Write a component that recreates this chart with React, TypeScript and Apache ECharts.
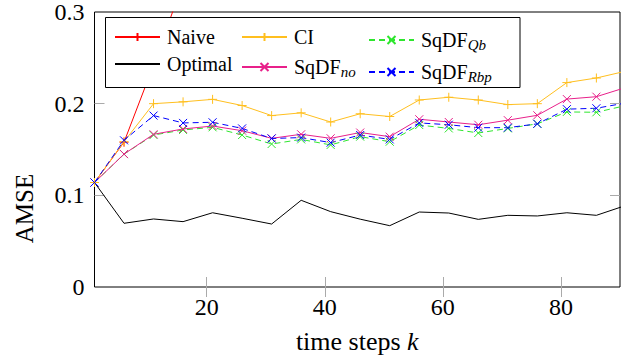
import React, { useEffect, useRef } from "react";
import * as echarts from "echarts";

const steps = [1, 6, 11, 16, 21, 26, 31, 36, 41, 46, 51, 56, 61, 66, 71, 76, 81, 86, 91];
const xTicks = [20, 40, 60, 80];
const yTicks = [0.1, 0.2];

const naive = [0.114, 0.158, 0.242, 0.332];
const ci = [0.114, 0.1585, 0.2, 0.202, 0.2047, 0.198, 0.187, 0.19, 0.18, 0.189, 0.186, 0.204, 0.207, 0.204, 0.199, 0.2, 0.223, 0.228, 0.2355];
const optimal = [0.114, 0.0695, 0.0742, 0.0713, 0.081, 0.075, 0.0687, 0.0946, 0.0822, 0.074, 0.0669, 0.0818, 0.0807, 0.0738, 0.0782, 0.0775, 0.081, 0.0782, 0.089];
const sqdfNo = [0.114, 0.145, 0.1666, 0.1724, 0.1756, 0.1705, 0.1622, 0.1666, 0.1622, 0.1685, 0.164, 0.183, 0.18, 0.177, 0.182, 0.1873, 0.205, 0.2076, 0.2177];
const sqdfQb = [0.114, 0.145, 0.1658, 0.1713, 0.1742, 0.1658, 0.156, 0.161, 0.155, 0.164, 0.1585, 0.1767, 0.173, 0.168, 0.173, 0.178, 0.191, 0.1906, 0.198];
const sqdfRbp = [0.114, 0.16, 0.187, 0.179, 0.1797, 0.173, 0.162, 0.163, 0.1575, 0.1658, 0.161, 0.179, 0.177, 0.1738, 0.1738, 0.178, 0.194, 0.195, 0.2008];

const FONT = "'Liberation Serif', 'DejaVu Serif', serif";
const PLUS = "path://M4.5,0L4.5,9M0,4.5L9,4.5";
const CROSS = "path://M0,0L8,8M0,8L8,0";

const pairs = (vals: number[]) => vals.map((v, i) => [steps[i], v]);

const legendLabels: Record<string, string> = {
  Naive: "{a|Naive}",
  Optimal: "{a|Optimal}",
  CI: "{a|CI}",
  SqDF_no: "{a|SqDF}{s|no}",
  SqDF_Qb: "{a|SqDF}{s|Qb}",
  SqDF_Rbp: "{a|SqDF}{s|Rbp}",
};

function mkSeries(name: string, vals: number[], color: string, symbol: string, dashed: boolean) {
  return {
    name,
    type: "line",
    data: pairs(vals),
    color,
    symbol,
    symbolSize: symbol === PLUS ? 9 : 8,
    showSymbol: symbol !== "none",
    clip: true,
    lineStyle: { color, width: 1, type: dashed ? [6, 4] : "solid" },
    itemStyle: { color, borderColor: color, borderWidth: 1 },
    emphasis: { disabled: true },
    z: 2,
  };
}

export default function App() {
  const ref = useRef<HTMLDivElement>(null);
  useEffect(() => {
    if (!ref.current) return;
    const chart = echarts.init(ref.current, null, { renderer: "svg" });
    const legendCommon = {
      orient: "vertical",
      top: 27,
      itemWidth: 45,
      itemHeight: 10,
      itemGap: 7,
      padding: 0,
      z: 10,
      selectedMode: false,
      formatter: (n: string) => legendLabels[n] || n,
      textStyle: {
        fontFamily: FONT,
        color: "#000",
        padding: [0, 0, 0, 2],
        rich: {
          a: { fontFamily: FONT, fontSize: 20, lineHeight: 24, color: "#000" },
          s: {
            fontFamily: FONT,
            fontSize: 15,
            fontStyle: "italic",
            lineHeight: 15,
            padding: [10, 0, 0, 0],
            verticalAlign: "bottom",
            color: "#000",
          },
        },
      },
    };
    const tickStyle = { show: true, inside: true, length: 10, lineStyle: { color: "#aaa", width: 1 } };
    chart.setOption({
      animation: false,
      textStyle: { fontFamily: FONT },
      grid: {
        left: 94.5,
        right: 9,
        top: 12,
        bottom: 75,
        show: true,
        borderColor: "#000",
        borderWidth: 1,
        backgroundColor: "transparent",
      },
      xAxis: [
        {
          type: "value",
          min: 1,
          max: 90,
          position: "bottom",
          axisLine: { show: false },
          splitLine: { show: false },
          axisTick: { ...tickStyle, customValues: xTicks },
          axisLabel: { customValues: xTicks, fontSize: 24, fontFamily: FONT, color: "#000", margin: 8 },
          name: "{a|time steps }{i|k}",
          nameLocation: "middle",
          nameGap: 41,
          nameTextStyle: {
            rich: {
              a: { fontSize: 26, fontFamily: FONT, color: "#000" },
              i: { fontSize: 26, fontFamily: FONT, fontStyle: "italic", color: "#000" },
            },
          },
        },
        {
          type: "value",
          min: 1,
          max: 90,
          position: "top",
          axisLine: { show: false },
          splitLine: { show: false },
          axisTick: { ...tickStyle, customValues: xTicks },
          axisLabel: { show: false },
        },
      ],
      yAxis: [
        {
          type: "value",
          min: 0,
          max: 0.3,
          interval: 0.1,
          position: "left",
          axisLine: { show: false },
          splitLine: { show: false },
          axisTick: { ...tickStyle, customValues: yTicks },
          axisLabel: { fontSize: 24, fontFamily: FONT, color: "#000", margin: 10 },
          name: "AMSE",
          nameLocation: "middle",
          nameRotate: 90,
          nameGap: 58,
          nameTextStyle: { fontSize: 25, fontFamily: FONT, color: "#000", padding: [0, 118, 0, 0] },
        },
        {
          type: "value",
          min: 0,
          max: 0.3,
          interval: 0.1,
          position: "right",
          axisLine: { show: false },
          splitLine: { show: false },
          axisTick: { ...tickStyle, customValues: yTicks },
          axisLabel: { show: false },
        },
      ],
      legend: [
        { ...legendCommon, left: 114, data: ["Naive", { name: "Optimal", itemStyle: { opacity: 0 } }] },
        { ...legendCommon, left: 241, data: ["CI", "SqDF_no"] },
        { ...legendCommon, left: 368, data: ["SqDF_Qb", "SqDF_Rbp"] },
      ],
      graphic: [
        {
          type: "rect",
          z: 6,
          shape: { x: 105.5, y: 17.5, width: 414.5, height: 70 },
          style: { fill: "#fff", stroke: "#000", lineWidth: 1 },
        },
      ],
      series: [
        mkSeries("Naive", naive, "#ff0000", PLUS, false),
        mkSeries("CI", ci, "#ffbf1f", PLUS, false),
        mkSeries("SqDF_Qb", sqdfQb, "#2ee62e", CROSS, true),
        mkSeries("Optimal", optimal, "#000000", "none", false),
        mkSeries("SqDF_no", sqdfNo, "#e8208a", CROSS, false),
        mkSeries("SqDF_Rbp", sqdfRbp, "#0000ff", CROSS, true),
      ],
    });
    return () => chart.dispose();
  }, []);
  return <div ref={ref} style={{ width: 629, height: 362, position: "absolute", left: 0, top: 0 }} />;
}
